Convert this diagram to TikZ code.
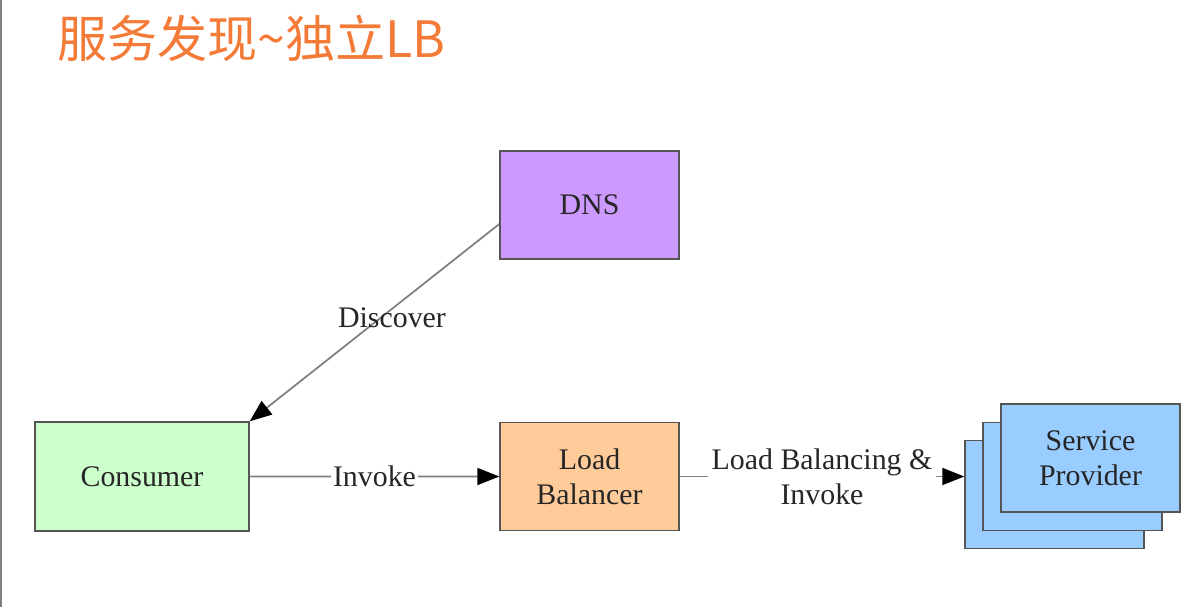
\documentclass[tikz,border=0pt]{standalone}
\usepackage{fontspec}
\setmainfont{Liberation Serif}
\newfontfamily\cjk{Noto Sans CJK SC}
\usetikzlibrary{arrows.meta}
\definecolor{titleorange}{RGB}{244,122,56}
\definecolor{dnspurple}{RGB}{204,153,255}
\definecolor{consgreen}{RGB}{204,255,204}
\definecolor{lborange}{RGB}{255,204,153}
\definecolor{spblue}{RGB}{153,204,255}
\definecolor{edgegray}{RGB}{85,85,85}
\definecolor{linegray}{RGB}{128,128,128}

\begin{document}
\begin{tikzpicture}[
		box/.style={draw=edgegray, line width=.8pt, minimum width=3.58cm, minimum height=2.16cm, align=center, font=\fontsize{17}{20}\selectfont, text=black!85},
		conn/.style={draw=linegray, line width=1pt, -{Triangle[length=.44cm, width=.34cm, color=black, fill=black]}},
		lbl/.style={font=\fontsize{17}{20}\selectfont, align=center, text=black!85}
	]
			\useasboundingbox (0,0) rectangle (24.02,-12.14);
			\draw[linegray, line width=1pt] (.02,0) -- (.02,-12.14);
			\node[anchor=west, inner sep=0, text=titleorange, font=\cjk\fontsize{28.5}{34}\selectfont] (title) at (1.14,-.76) {服务发现\textasciitilde 独立LB};
			\node[box, fill=dnspurple] (dns) at (11.79,-4.10) {DNS};
			\node[box, fill=lborange, below of=dns, node distance=5.43cm] (balancer) {Load\\Balancer};
			\node[box, fill=consgreen, minimum width=4.28cm, minimum height=2.18cm] (consumer) at (2.84,-9.53) {Consumer};
			\node[box, fill=spblue] (provider3) at (21.09,-9.89) {};
			\node[box, fill=spblue] (provider2) at (21.45,-9.53) {};
			\node[box, fill=spblue] (provider1) at (21.81,-9.16) {Service\\Provider};
			\draw[conn] ([yshift=-.38cm]dns.west) -- (consumer.north east) node[lbl, pos=.45, xshift=.1cm, yshift=-.1cm] {Discover};
			\draw[conn] (consumer) -- (balancer) node[lbl, midway, fill=white, inner sep=1pt] {Invoke};
			\draw[conn] (balancer) -- (balancer -| provider3.west) node[lbl, midway, fill=white, inner sep=2pt] {Load Balancing \&\\Invoke};
		\end{tikzpicture}
\end{document}
